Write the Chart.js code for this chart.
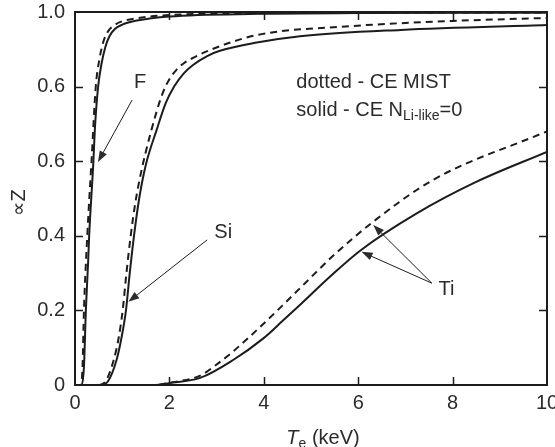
<!DOCTYPE html>
<html>
<head>
<meta charset="utf-8">
<script src="https://cdn.jsdelivr.net/npm/chart.js@4.4.0/dist/chart.umd.min.js"></script>
<style>
html, body { margin: 0; padding: 0; background: #fff; }
#wrap { width: 555px; height: 447px; position: relative; }
</style>
</head>
<body>
<div id="wrap"><canvas id="myChart"></canvas></div>
<script>
// electron temperature (keV) and fraction for each ion
// solid = CE N_Li-like=0, dashed = CE MIST
const teF_solid = [0, 0.14, 0.19, 0.23, 0.28, 0.30, 0.39, 0.42, 0.49, 0.56, 0.64, 0.73, 0.85, 1.0, 1.31, 2.0, 3.9, 6.0, 10];
const aF_solid  = [0, 0, 0.05, 0.2, 0.335, 0.4, 0.6, 0.684, 0.8, 0.86, 0.905, 0.935, 0.955, 0.966, 0.977, 0.988, 0.995, 0.997, 0.998];
const teF_dot   = [0, 0.12, 0.16, 0.19, 0.26, 0.35, 0.44, 0.52, 0.60, 0.70, 0.85, 1.0, 1.3, 2.0, 4.0, 10];
const aF_dot    = [0, 0, 0.05, 0.2, 0.4, 0.6, 0.8, 0.875, 0.92, 0.948, 0.966, 0.975, 0.983, 0.992, 0.997, 0.999];

const teSi_solid = [0, 0.55, 0.7, 0.88, 0.99, 1.08, 1.16, 1.25, 1.36, 1.5, 1.73, 1.92, 2.1, 2.3, 2.5, 2.8, 3.07, 3.85, 4.77, 6.9, 10];
const aSi_solid  = [0, 0, 0.01, 0.067, 0.13, 0.2, 0.3, 0.4, 0.5, 0.59, 0.684, 0.755, 0.8, 0.835, 0.858, 0.882, 0.896, 0.918, 0.935, 0.952, 0.965];
const teSi_dot   = [0, 0.5, 0.65, 0.82, 0.93, 1.01, 1.09, 1.18, 1.28, 1.4, 1.62, 1.85, 2.0, 2.15, 2.3, 2.5, 2.86, 3.85, 5.83, 8.0, 10];
const aSi_dot    = [0, 0, 0.01, 0.067, 0.13, 0.2, 0.3, 0.4, 0.49, 0.57, 0.684, 0.78, 0.82, 0.845, 0.862, 0.877, 0.898, 0.938, 0.962, 0.976, 0.984];

const teTi_solid = [0, 1.7, 2.0, 2.65, 3.35, 3.99, 4.4, 4.77, 5.4, 6.04, 7.24, 8.51, 10];
const aTi_solid  = [0, 0, 0.005, 0.019, 0.067, 0.125, 0.172, 0.215, 0.29, 0.36, 0.46, 0.545, 0.625];
const teTi_dot   = [0, 1.7, 2.0, 2.65, 3.0, 3.35, 4.0, 4.41, 4.77, 5.5, 6.29, 7.59, 10];
const aTi_dot    = [0, 0, 0.006, 0.025, 0.055, 0.09, 0.165, 0.215, 0.26, 0.35, 0.435, 0.55, 0.68];

const yTickLabels = ['0', '0.2', '0.4', '0.6', '0.6', '1.0'];

const FONT = '"Liberation Sans", Arial, Helvetica, sans-serif';
const INK = '#1c1c1c';
const TEXT = '#2b2b2b';

function pts(xs, ys) {
  return xs.map((x, i) => ({x: x, y: ys[i]}));
}

function line(data, dashed) {
  return {
    data: data,
    borderColor: INK,
    borderWidth: 2,
    borderDash: dashed ? [7, 5] : [],
    pointRadius: 0,
    fill: false,
    cubicInterpolationMode: 'monotone'
  };
}

function arrow(ctx, x1, y1, x2, y2) {
  const ang = Math.atan2(y2 - y1, x2 - x1);
  const len = 11, half = 4;
  ctx.beginPath();
  ctx.moveTo(x1, y1);
  ctx.lineTo(x2 - len * 0.8 * Math.cos(ang), y2 - len * 0.8 * Math.sin(ang));
  ctx.stroke();
  ctx.beginPath();
  ctx.moveTo(x2, y2);
  ctx.lineTo(x2 - len * Math.cos(ang) + half * Math.sin(ang), y2 - len * Math.sin(ang) - half * Math.cos(ang));
  ctx.lineTo(x2 - len * Math.cos(ang) - half * Math.sin(ang), y2 - len * Math.sin(ang) + half * Math.cos(ang));
  ctx.closePath();
  ctx.fill();
}

// frame, inward ticks, labels and arrows
const decorations = {
  id: 'decorations',
  afterDatasetsDraw(chart) {
    const ctx = chart.ctx;
    const a = chart.chartArea;
    const xs = chart.scales.x, ys = chart.scales.y;
    const px = v => xs.getPixelForValue(v);
    const py = v => ys.getPixelForValue(v);
    ctx.save();

    ctx.strokeStyle = INK;
    ctx.lineWidth = 2;
    ctx.strokeRect(a.left, a.top, a.right - a.left, a.bottom - a.top);

    ctx.lineWidth = 1.5;
    ctx.beginPath();
    xs.ticks.forEach(t => {
      if (t.value <= 0 || t.value >= 10) return;
      const x = Math.round(px(t.value)) + 0.5;
      ctx.moveTo(x, a.bottom); ctx.lineTo(x, a.bottom - 8);
      ctx.moveTo(x, a.top); ctx.lineTo(x, a.top + 8);
    });
    ys.ticks.forEach(t => {
      if (t.value <= 0 || t.value >= 1) return;
      const y = Math.round(py(t.value)) + 0.5;
      ctx.moveTo(a.left, y); ctx.lineTo(a.left + 8, y);
      ctx.moveTo(a.right, y); ctx.lineTo(a.right - 8, y);
    });
    ctx.stroke();

    // curve labels with arrows
    ctx.fillStyle = TEXT;
    ctx.strokeStyle = INK;
    ctx.lineWidth = 1;
    ctx.font = '20px ' + FONT;
    ctx.textAlign = 'center';
    ctx.textBaseline = 'middle';
    ctx.fillText('F', px(1.38), py(0.81));
    arrow(ctx, px(1.21), py(0.764), px(0.487), py(0.598));
    ctx.fillText('Si', px(3.14), py(0.41));
    arrow(ctx, px(2.80), py(0.389), px(1.13), py(0.223));
    ctx.fillText('Ti', px(7.87), py(0.255));
    arrow(ctx, px(7.56), py(0.273), px(6.32), py(0.429));
    arrow(ctx, px(7.56), py(0.273), px(6.07), py(0.357));

    // key
    ctx.textAlign = 'left';
    let x0 = px(4.69);
    ctx.fillText('dotted - CE MIST', x0, py(0.812));
    let y1 = py(0.737);
    const s1 = 'solid - CE N';
    ctx.fillText(s1, x0, y1);
    let w = ctx.measureText(s1).width;
    ctx.font = '14px ' + FONT;
    ctx.fillText('Li-like', x0 + w, y1 + 6);
    w += ctx.measureText('Li-like').width;
    ctx.font = '20px ' + FONT;
    ctx.fillText('=0', x0 + w, y1);

    // x axis title
    const t1 = 'T', t2 = 'e', t3 = ' (keV)';
    ctx.font = 'italic 20px ' + FONT;
    const w1 = ctx.measureText(t1).width;
    ctx.font = '14px ' + FONT;
    const w2 = ctx.measureText(t2).width;
    ctx.font = '20px ' + FONT;
    const w3 = ctx.measureText(t3).width;
    let tx = (a.left + a.right) / 2 + 12 - (w1 + w2 + w3) / 2;
    const ty = 438;
    ctx.font = 'italic 20px ' + FONT;
    ctx.fillText(t1, tx, ty);
    ctx.font = '14px ' + FONT;
    ctx.fillText(t2, tx + w1, ty + 6);
    ctx.font = '20px ' + FONT;
    ctx.fillText(t3, tx + w1 + w2, ty);

    // y axis title
    ctx.translate(19, (a.top + a.bottom) / 2 + 4);
    ctx.rotate(-Math.PI / 2);
    ctx.textAlign = 'center';
    ctx.fillText('\u221DZ', 0, 0);

    ctx.restore();
  }
};

const data = {
  datasets: [
    line(pts(teF_dot, aF_dot), true),
    line(pts(teF_solid, aF_solid), false),
    line(pts(teSi_dot, aSi_dot), true),
    line(pts(teSi_solid, aSi_solid), false),
    line(pts(teTi_dot, aTi_dot), true),
    line(pts(teTi_solid, aTi_solid), false)
  ]
};

const config = {
  type: 'line',
  data: data,
  options: {
    responsive: true,
    maintainAspectRatio: false,
    animation: false,
    layout: { padding: { top: 12, right: 8, left: 0, bottom: 0 } },
    plugins: {
      legend: { display: false },
      tooltip: { enabled: false }
    },
    scales: {
      x: {
        type: 'linear',
        min: 0,
        max: 10,
        ticks: {
          stepSize: 2,
          padding: 6,
          color: TEXT,
          font: { family: FONT, size: 20 },
          maxRotation: 0
        },
        grid: { display: false, drawTicks: false },
        border: { display: false },
        afterFit(scale) {
          scale.height = 62;
          scale.paddingLeft = 0;
          scale.paddingRight = 0;
        }
      },
      y: {
        min: 0,
        max: 1,
        ticks: {
          stepSize: 0.2,
          padding: 10,
          color: TEXT,
          font: { family: FONT, size: 20 },
          callback: (v, i) => yTickLabels[i]
        },
        grid: { display: false, drawTicks: false },
        border: { display: false },
        afterFit(scale) {
          scale.width = 75;
          scale.paddingTop = 0;
          scale.paddingBottom = 0;
        }
      }
    }
  },
  plugins: [decorations]
};

const myChart = new Chart(
  document.getElementById('myChart'),
  config
);
</script>
</body>
</html>
